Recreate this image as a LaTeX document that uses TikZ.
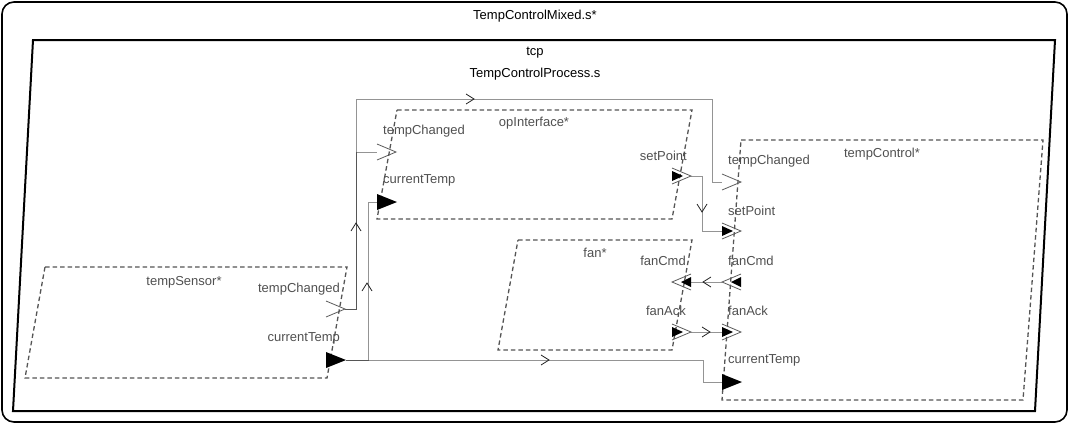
\documentclass[tikz,border=0pt]{standalone}
\usepackage{fontspec}
\setmainfont{Liberation Sans}
\usetikzlibrary{calc}
\definecolor{boxc}{HTML}{555555}
\definecolor{lblc}{HTML}{505050}
\definecolor{portc}{HTML}{5A5A5A}
\begin{document}
\begin{tikzpicture}[x=1pt,y=-1pt,
  conn/.style={draw=black, draw opacity=0.42, line width=0.9pt},
  comp/.style={draw=boxc, line width=1.3pt, dash pattern=on 4.5pt off 3pt},
  lbl/.style={text=lblc, inner sep=0pt, font=\fontsize{13}{15}\selectfont},
  ttl/.style={text=black, inner sep=0pt, font=\fontsize{13}{15}\selectfont},
  portline/.style={draw=portc, line width=0.8pt},
  midline/.style={draw=black!85, line width=0.8pt},
  pics/chevR/.style={code={\draw[portline] (0,-8) -- (19,0) -- (0,8);}},
  pics/chevL/.style={code={\draw[portline] (19,-8) -- (0,0) -- (19,8);}},
  pics/triR/.style={code={\fill[black] (0,-5) -- (11,0) -- (0,5) -- cycle;}},
  pics/triL/.style={code={\fill[black] (19,-5) -- (9,0) -- (19,5) -- cycle;}},
  pics/bigR/.style={code={\fill[black] (0,-8) -- (20,0) -- (0,8) -- cycle;}},
  pics/midR/.style={code={\draw[midline] (-4,-5) -- (4,0) -- (-4,5);}},
  pics/midL/.style={code={\draw[midline] (4,-5) -- (-4,0) -- (4,5);}},
  pics/midU/.style={code={\draw[midline] (-5,4) -- (0,-4) -- (5,4);}},
  pics/midD/.style={code={\draw[midline] (-5,-4) -- (0,4) -- (5,-4);}}
]
\useasboundingbox (0,0) rectangle (1070,426);

% outer frame
\draw[line width=1.6pt, rounded corners=12pt] (2,2) rectangle (1067,422);
\node[ttl] (title) at (535,16) {TempControlMixed.s*};

% tcp process
\draw[line width=2pt, line join=miter] (33,40) -- (1055,40) -- (1035,411) -- (13,411) -- cycle;
\node[ttl] (tcpname) at (535,53) {tcp};
\node[ttl] (tcptype) at (535,74) {TempControlProcess.s};

% port coordinates
\coordinate (tsTC) at (345,309);
\coordinate (tsCT) at (346,360);
\coordinate (oiTC) at (377,152);
\coordinate (oiCT) at (377,202);
\coordinate (oiSP) at (691,176);
\coordinate (fanCmd) at (691,282);
\coordinate (fanAck) at (691,332);
\coordinate (tcTC) at (722,182);
\coordinate (tcSP) at (722,231);
\coordinate (tcCmd) at (722,282);
\coordinate (tcAck) at (722,332);
\coordinate (tcCT) at (722,382);

% connectors
\draw[conn] (tsTC) -- ++(11,0) |- (oiTC);
\draw[conn] (tsTC) -- ++(11,0) -- ++(0,-210) -| ($(tcTC)+(-10,0)$) -- (tcTC);
\draw[conn] (tsCT) -| ($(oiCT)+(-9,0)$) -- (oiCT);
\draw[conn] (tsCT) -| ($(tcCT)+(-19,0)$) -- (tcCT);
\draw[conn] (oiSP) -- ++(11,0) |- (tcSP);
\draw[conn] (tcCmd) -- (fanCmd);
\draw[conn] (fanAck) -- (tcAck);

% direction markers
\pic at (356,227) {midU};
\pic at (470,99) {midR};
\pic at (367,287) {midU};
\pic at (545,360) {midR};
\pic at (702,208) {midD};
\pic at (707,282) {midL};
\pic at (706,332) {midR};

% components
\draw[comp] (397,110) -- (692,110) -- (672,219) -- (377,219) -- cycle;
\draw[comp] (45,267) -- (347,267) -- (327,378) -- (25,378) -- cycle;
\draw[comp] (518,240) -- (692,240) -- (672,350) -- (498,350) -- cycle;
\draw[comp] (741,140) -- (1043,140) -- (1023,400) -- (722,400) -- cycle;

\node[lbl] (oiname) at (534,123) {opInterface*};
\node[lbl] (tsname) at (184,282) {tempSensor*};
\node[lbl] (fanname) at (595,253) {fan*};
\node[lbl] (tcname) at (882,154) {tempControl*};

% port labels
\node[lbl, anchor=east] (lTsTC) at (340,289) {tempChanged};
\node[lbl, anchor=east] (lTsCT) at (340,338) {currentTemp};
\node[lbl, anchor=west] (lOiTC) at (383,131) {tempChanged};
\node[lbl, anchor=west] (lOiCT) at (383,180) {currentTemp};
\node[lbl, anchor=east] (lOiSP) at (687,156) {setPoint};
\node[lbl, anchor=east] (lFanCmd) at (686,261) {fanCmd};
\node[lbl, anchor=east] (lFanAck) at (686,311) {fanAck};
\node[lbl, anchor=west] (lTcTC) at (728,161) {tempChanged};
\node[lbl, anchor=west] (lTcSP) at (728,211) {setPoint};
\node[lbl, anchor=west] (lTcCmd) at (728,261) {fanCmd};
\node[lbl, anchor=west] (lTcAck) at (728,311) {fanAck};
\node[lbl, anchor=west] (lTcCT) at (728,360) {currentTemp};

% port glyphs
\pic at (326,309) {chevR};
\pic at (326,360) {bigR};
\pic at (377,152) {chevR};
\pic at (377,202) {bigR};
\pic at (672,176) {triR};
\pic at (672,176) {chevR};
\pic at (672,282) {triL};
\pic at (672,282) {chevL};
\pic at (672,332) {triR};
\pic at (672,332) {chevR};
\pic at (722,182) {chevR};
\pic at (722,231) {triR};
\pic at (722,231) {chevR};
\pic at (722,282) {triL};
\pic at (722,282) {chevL};
\pic at (722,332) {triR};
\pic at (722,332) {chevR};
\pic at (722,382) {bigR};
\end{tikzpicture}
\end{document}
